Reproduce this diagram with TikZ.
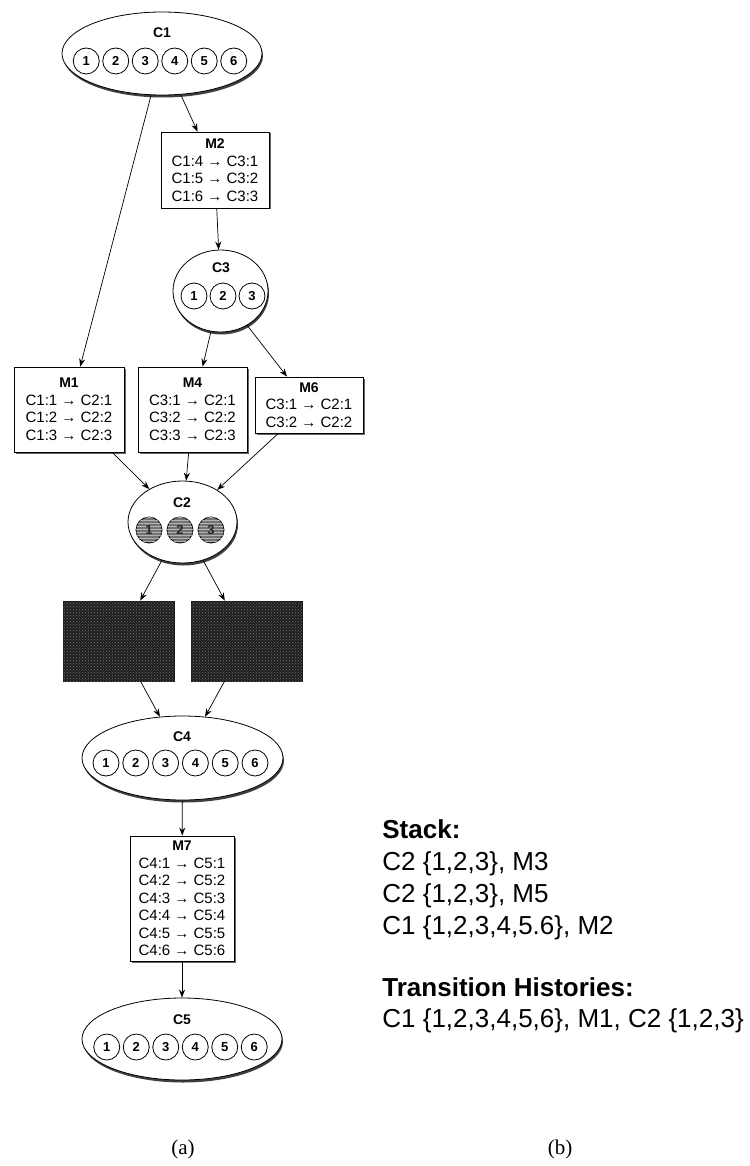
\documentclass[tikz,border=0pt]{standalone}
\usepackage{fontspec}
\setmainfont{Liberation Sans}
\newfontfamily\capfont{Liberation Serif}
\usetikzlibrary{arrows.meta,shapes.geometric,shadows,patterns}
\begin{document}
\begin{tikzpicture}[x=1pt,y=-1pt,
  line width=0.8pt,
  arr/.style={-{Stealth[length=8pt,width=6pt]}, line width=0.7pt},
  clus/.style={ellipse, draw, fill=white, inner sep=0pt,
    drop shadow={shadow xshift=1pt, shadow yshift=-2.5pt, fill=black!75, opacity=1}},
  mbox/.style={rectangle, draw, fill=white, inner sep=0pt, align=center,
    font=\fontsize{15}{17.5}\selectfont,
    drop shadow={shadow xshift=1.5pt, shadow yshift=-1.5pt, fill=black!60, opacity=1}},
  darkbox/.style={rectangle, draw=black!90, fill=black!88, inner sep=0pt,
    minimum width=111pt, minimum height=80pt,
    postaction={pattern=crosshatch dots, pattern color=black!55}},
  num/.style={circle, draw, fill=white, minimum size=26pt, inner sep=0pt,
    font=\bfseries\fontsize{13}{13}\selectfont},
  numg/.style={num, fill=black!55, postaction={pattern=horizontal lines, pattern color=black!30}, text=black!85},
  clab/.style={font=\bfseries\fontsize{14}{14}\selectfont, inner sep=0pt},
  side/.style={anchor=base west, inner sep=0pt, font=\fontsize{26}{30}\selectfont},
  sideh/.style={side, font=\bfseries\fontsize{26}{30}\selectfont},
  captext/.style={inner sep=0pt, font=\capfont\fontsize{21}{21}\selectfont}
]
\useasboundingbox[fill=white] (0,0) rectangle (749,1166);

% clusters
\node[clus, minimum width=200pt, minimum height=83pt] (C1) at (162,53.5) {};
\node[clab] (C1l) at (162,33) {C1};
\foreach \i in {1,...,6} \node[num] (C1-\i) at ({160+29.5*(\i-3.5)},61) {\i};

\node[clus, minimum width=95pt, minimum height=82pt] (C3) at (220.5,291) {};
\node[clab] (C3l) at (221,268) {C3};
\foreach \i in {1,2,3} \node[num] (C3-\i) at ({223+29*(\i-2)},296) {\i};

\node[clus, minimum width=109pt, minimum height=82pt] (C2) at (182.5,522) {};
\node[clab] (C2l) at (182,503) {C2};
\foreach \i in {1,2,3} \node[numg] (C2-\i) at ({180+31*(\i-2)},530) {\i};

\node[clus, minimum width=201pt, minimum height=84pt] (C4) at (182.5,758) {};
\node[clab] (C4l) at (182,737) {C4};
\foreach \i in {1,...,6} \node[num] (C4-\i) at ({180.5+29.8*(\i-3.5)},763) {\i};

\node[clus, minimum width=200pt, minimum height=82pt] (C5) at (182,1039) {};
\node[clab] (C5l) at (182,1020) {C5};
\foreach \i in {1,...,6} \node[num] (C5-\i) at ({180.5+29.5*(\i-3.5)},1047) {\i};

% mapping boxes
\node[mbox, minimum width=108pt, minimum height=76pt] (M2) at (215,170)
  {{\bfseries\fontsize{14}{17.5}\selectfont M2}\\C1:4 → C3:1\\C1:5 → C3:2\\C1:6 → C3:3};
\node[mbox, minimum width=110pt, minimum height=85pt] (M1) at (69,409.5)
  {{\bfseries\fontsize{14}{17.5}\selectfont M1}\\C1:1 → C2:1\\C1:2 → C2:2\\C1:3 → C2:3};
\node[mbox, minimum width=109pt, minimum height=85pt] (M4) at (192.5,409.5)
  {{\bfseries\fontsize{14}{17.5}\selectfont M4}\\C3:1 → C2:1\\C3:2 → C2:2\\C3:3 → C2:3};
\node[mbox, minimum width=108pt, minimum height=56pt] (M6) at (309,405)
  {{\bfseries\fontsize{14}{17.5}\selectfont M6}\\C3:1 → C2:1\\C3:2 → C2:2};
\node[mbox, minimum width=104pt, minimum height=125pt] (M7) at (182,898.5)
  {{\bfseries\fontsize{14}{17.5}\selectfont M7}\\C4:1 → C5:1\\C4:2 → C5:2\\C4:3 → C5:3\\C4:4 → C5:4\\C4:5 → C5:5\\C4:6 → C5:6};

\node[darkbox] (DL) at (118.5,641) {};
\node[darkbox] (DR) at (246.5,641) {};

% connectors
\draw[arr] (C1) -- (M2);
\draw[arr] (C1) -- (M1);
\draw[arr] (M2) -- (C3);
\draw[arr] (C3) -- (M4);
\draw[arr] (C3) -- (M6);
\draw[arr] (M1) -- (C2);
\draw[arr] (M4) -- (C2);
\draw[arr] (M6) -- (C2);
\draw[arr] (C2) -- (DL);
\draw[arr] (C2) -- (DR);
\draw[arr] (DL) -- (C4);
\draw[arr] (DR) -- (C4);
\draw[arr] (C4) -- (M7);
\draw[arr] (M7) -- (C5);

% side text
\node[sideh] (st) at (382,838) {Stack:};
\node[side] (s1) at (382,870) {C2 \{1,2,3\}, M3};
\node[side] (s2) at (382,902) {C2 \{1,2,3\}, M5};
\node[side] (s3) at (382,934) {C1 \{1,2,3,4,5.6\}, M2};
\node[sideh] (th) at (382,996) {Transition Histories:};
\node[side] (t1) at (382,1027) {C1 \{1,2,3,4,5,6\}, M1, C2 \{1,2,3\}};

% captions
\node[captext] (ca) at (183,1149) {(a)};
\node[captext] (cb) at (560,1149) {(b)};
\end{tikzpicture}
\end{document}
